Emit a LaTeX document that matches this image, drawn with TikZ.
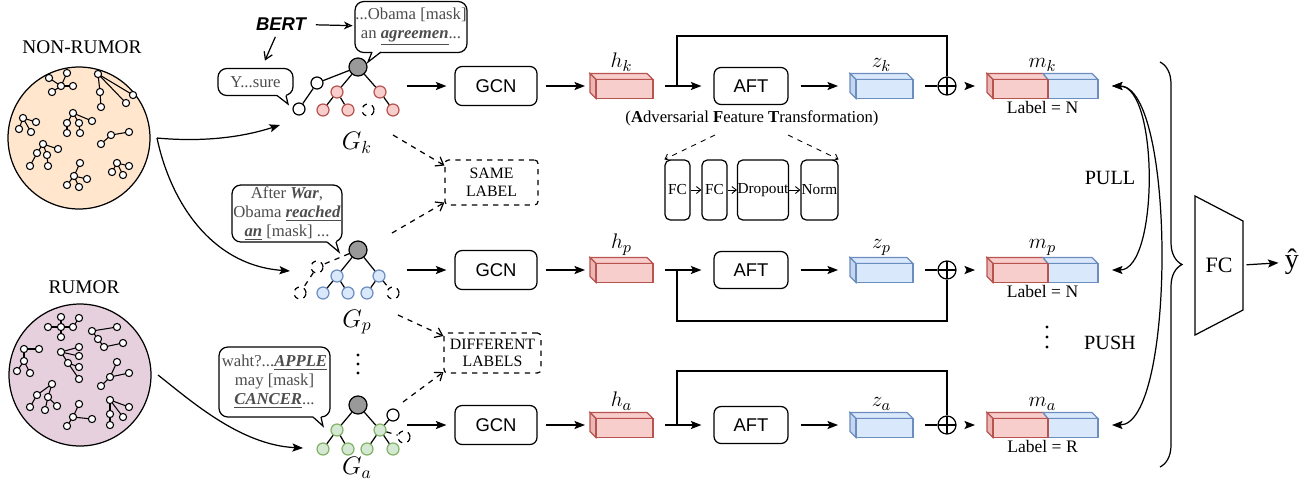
\documentclass[tikz,border=0pt]{standalone}
\usepackage{fontspec}
\setmainfont{Liberation Serif}
\setsansfont{Liberation Sans}
\usetikzlibrary{positioning,arrows.meta,decorations.pathreplacing}

\definecolor{redfill}{HTML}{F8CECC}
\definecolor{redline}{HTML}{B85450}
\definecolor{bluefill}{HTML}{DAE8FC}
\definecolor{blueline}{HTML}{6C8EBF}
\definecolor{greenfill}{HTML}{D5E8D4}
\definecolor{greenline}{HTML}{82B366}
\definecolor{peach}{HTML}{FFE6CC}
\definecolor{mauve}{HTML}{E6D0DE}
\definecolor{rootgray}{HTML}{999999}
\definecolor{bubbletext}{HTML}{4D4D4D}

% masked / replaced words in the posts
\newcommand{\keyw}[1]{\underline{\textbf{\textit{#1}}}}

% 3d feature block drawn on top of an empty node
\newcommand{\slab}[3]{%
  \filldraw[fill=#2, draw=#3] (#1.north west) -- ([shift={(-6,0)}]#1.north east) -- ([shift={(0,6)}]#1.north east) -- ([shift={(6,6)}]#1.north west) -- cycle;
  \filldraw[fill=#2!80!#3, draw=#3] (#1.north west) -- ([shift={(6,6)}]#1.north west) -- ([shift={(6,0)}]#1.south west) -- ([shift={(0,-6)}]#1.south west) -- cycle;
  \filldraw[fill=#2, draw=#3] ([shift={(6,6)}]#1.north west) rectangle (#1.south east);
}
% concatenated block, red half + blue half
\newcommand{\pairslab}[1]{%
  \filldraw[fill=redfill, draw=redline] (#1.north west) -- ([shift={(56,0)}]#1.north west) -- ([shift={(61,6)}]#1.north west) -- ([shift={(6,6)}]#1.north west) -- cycle;
  \filldraw[fill=bluefill, draw=blueline] ([shift={(56,0)}]#1.north west) -- ([shift={(-6,0)}]#1.north east) -- ([shift={(0,6)}]#1.north east) -- ([shift={(61,6)}]#1.north west) -- cycle;
  \filldraw[fill=redfill!80!redline, draw=redline] (#1.north west) -- ([shift={(6,6)}]#1.north west) -- ([shift={(6,0)}]#1.south west) -- ([shift={(0,-6)}]#1.south west) -- cycle;
  \filldraw[fill=bluefill, draw=blueline] ([shift={(61,6)}]#1.north west) rectangle (#1.south east);
  \filldraw[fill=redfill, draw=redline] ([shift={(6,6)}]#1.north west) rectangle ([shift={(61,0)}]#1.south west);
}
% tail of a speech bubble: x1, x2, bottom y, tip x, tip y
\newcommand{\bubbletail}[5]{%
  \fill[white] (#1,#3-3) -- (#1,#3) -- (#4,#5) -- (#2,#3) -- (#2,#3-3) -- cycle;
  \draw (#1,#3) -- (#4,#5) -- (#2,#3);
}

\tikzset{
  pool/.style={circle, draw, minimum size=2.84cm, outer sep=4pt},
  leaf/.style={circle, draw, minimum size=0.24cm, inner sep=0pt},
  rootnode/.style={circle, draw, fill=rootgray, minimum size=0.36cm, inner sep=0pt},
  rednode/.style={leaf, fill=redfill, draw=redline},
  bluenode/.style={leaf, fill=bluefill, draw=blueline},
  greennode/.style={leaf, fill=greenfill, draw=greenline},
  whitenode/.style={leaf, fill=white},
  ghostnode/.style={leaf, dashed},
  bubble/.style={draw, fill=white, rounded corners=5pt, align=center, inner sep=0pt, text=bubbletext, font=\fontsize{9.5}{10.8}\selectfont},
  tagbox/.style={draw, dashed, rounded corners=2pt, align=center, font=\fontsize{9}{10}\selectfont},
  hint/.style={dashed, -{Straight Barb[length=4pt,width=6pt]}},
  block/.style={draw, rounded corners=4pt, minimum width=1.64cm, minimum height=0.78cm, font=\sffamily\fontsize{10.5}{12}\selectfont},
  slabnode/.style={inner sep=0pt, outer sep=0pt, minimum width=1.26cm, minimum height=0.5cm},
  vecl/.style={font=\fontsize{12.5}{14}\selectfont, inner sep=1pt},
  tagl/.style={font=\fontsize{10}{12}\selectfont, inner sep=1.5pt},
  oplus/.style={circle, draw, inner sep=0pt, minimum size=0.36cm,
    path picture={\draw (path picture bounding box.north) -- (path picture bounding box.south)
      (path picture bounding box.west) -- (path picture bounding box.east);}},
  conn/.style={->, shorten <=0.24cm, shorten >=0.24cm},
  layer/.style={draw, rounded corners=3pt, minimum height=1.2cm, inner sep=0pt, font=\fontsize{8.7}{10}\selectfont},
  tiny/.style={-{Straight Barb[length=2.5pt,width=4pt]}, line width=0.5pt},
  glabel/.style={font=\fontsize{14}{16}\selectfont},
}

\begin{document}
\begin{tikzpicture}[x=0.02cm, y=-0.02cm, line width=0.7pt, >={Stealth[length=6pt,width=4.6pt,inset=1.2pt]}]
\useasboundingbox (0,0) rectangle (1307,495);

% the two pools of propagation trees
\node[font=\fontsize{11}{13}\selectfont] (nrtitle) at (82,47) {NON-RUMOR};
\node[pool, fill=peach] (nonrumor) at (79,138) {};
\foreach \xa/\ya/\xb/\yb in {61/86/49/78, 61/86/67/73, 61/86/73/86, 61/86/52/92,
    98/74/100/92, 100/92/101/107, 98/74/133/95, 98/74/126/103,
    23/118/36/122, 23/118/19/129, 23/118/31/132,
    73/113/67/123, 73/113/79/123, 73/113/92/121, 67/123/67/133, 79/123/80/133,
    101/144/111/135, 111/135/129/132,
    43/144/37/153, 43/144/47/155, 43/144/58/149, 37/153/30/166, 47/155/48/166,
    80/163/74/176, 74/176/67/185, 74/176/79/187, 74/176/87/179,
    117/163/112/172, 117/163/123/175, 117/163/129/166}
  \draw[line width=0.6pt] (\xa,\ya) -- (\xb,\yb);
\foreach \xa/\ya in {49/78, 67/73, 61/86, 73/86, 52/92, 98/74, 100/92, 101/107, 133/95, 126/103,
    23/118, 36/122, 19/129, 31/132, 73/113, 67/123, 79/123, 92/121, 67/133, 80/133,
    101/144, 111/135, 129/132, 43/144, 37/153, 47/155, 58/149, 30/166, 48/166,
    80/163, 74/176, 67/185, 79/187, 87/179, 117/163, 112/172, 123/175, 129/166}
  \filldraw[line width=0.6pt, fill=white] (\xa,\ya) circle (3.6);

\node[font=\fontsize{11}{13}\selectfont] (rtitle) at (84,287) {RUMOR};
\node[pool, fill=mauve] (rumor) at (80,375) {};
\foreach \xa/\ya/\xb/\yb in {61/327/61/317, 61/327/61/337, 61/327/48/327, 61/327/73/327, 73/327/79/318,
    92/331/117/327, 92/331/98/339, 98/339/104/347, 104/347/123/343,
    24/349/39/349, 24/349/24/361, 24/361/17/371, 24/361/30/373,
    61/352/79/347, 61/352/79/356, 61/352/68/363, 68/363/79/367, 68/363/79/379,
    110/377/117/362, 110/377/101/386, 110/377/129/373,
    52/384/37/395, 37/395/30/407, 52/384/48/397, 48/397/45/410, 48/397/57/406,
    79/404/73/417, 73/417/67/426, 73/417/92/419,
    110/400/110/414, 110/414/110/425, 110/400/129/407, 110/400/123/417}
  \draw[line width=0.6pt] (\xa,\ya) -- (\xb,\yb);
\foreach \xa/\ya in {61/327, 61/317, 61/337, 48/327, 73/327, 79/318, 92/331, 117/327, 98/339, 104/347, 123/343,
    24/349, 39/349, 24/361, 17/371, 30/373, 61/352, 79/347, 79/356, 68/363, 79/367, 79/379,
    110/377, 117/362, 101/386, 129/373, 52/384, 37/395, 30/407, 48/397, 45/410, 57/406,
    79/404, 73/417, 67/426, 92/419, 110/400, 110/414, 110/425, 129/407, 123/417}
  \filldraw[line width=0.6pt, fill=white] (\xa,\ya) circle (3.6);

% sampled trees
\coordinate (ink) at (280,125);
\coordinate (inp) at (290,271);
\coordinate (ina) at (303,448);
\draw[->] (nonrumor.east) .. controls (200,142) and (240,138) .. (ink);
\draw[->] (nonrumor.east) .. controls (170,200) and (210,265) .. (inp);
\draw[->] (rumor.east) .. controls (190,400) and (240,445) .. (ina);

% G_k
\node[rootnode] (rk) at (358,67) {};
\node[whitenode] (wk1) at (317,83) {};
\node[whitenode] (wk2) at (299,109) {};
\node[rednode] (ck1) at (337,92) {};
\node[rednode] (ck2) at (380,92) {};
\node[rednode] (lk1) at (323,110) {};
\node[rednode] (lk2) at (348,110) {};
\node[ghostnode] (dk) at (368,110) {};
\node[rednode] (lk3) at (393,110) {};
\draw (rk) -- (wk1) -- (wk2) (rk) -- (ck1) -- (lk1) (ck1) -- (lk2) (rk) -- (ck2) -- (lk3);
\node[glabel] (gk) at (357,143) {$G_k$};

% G_p
\node[rootnode] (rp) at (358,250) {};
\node[ghostnode] (dp1) at (317,267) {};
\node[ghostnode] (dp2) at (300,293) {};
\node[bluenode] (cp1) at (337,276) {};
\node[bluenode] (cp2) at (379,276) {};
\node[bluenode] (lp1) at (323,293) {};
\node[bluenode] (lp2) at (348,293) {};
\node[bluenode] (lp3) at (367,293) {};
\node[ghostnode] (dp3) at (393,293) {};
\draw (rp) -- (cp1) -- (lp1) (cp1) -- (lp2) (rp) -- (cp2) -- (lp3);
\draw[dashed] (rp) -- (dp1) -- (dp2) (cp2) -- (dp3);
\node[glabel] (gp) at (357,322) {$G_p$};

\foreach \yy in {355,364,373}
  \fill (358,\yy) circle (1.6);

% G_a
\node[rootnode] (ra) at (358,405) {};
\node[greennode] (ca1) at (337,430) {};
\node[greennode] (ca2) at (380,430) {};
\node[whitenode] (wa) at (393,415) {};
\node[ghostnode] (da) at (404,437) {};
\node[greennode] (la1) at (323,449) {};
\node[greennode] (la2) at (348,449) {};
\node[greennode] (la3) at (367,449) {};
\node[greennode] (la4) at (393,449) {};
\draw (ra) -- (ca1) -- (la1) (ca1) -- (la2) (ra) -- (ca2) -- (la3) (ca2) -- (la4) (ca2) -- (wa);
\draw[dashed] (ca2) -- (da);
\node[glabel] (ga) at (357,468) {$G_a$};

% posts
\node[font=\sffamily\bfseries\itshape\fontsize{10.5}{12}\selectfont] (bert) at (281,24) {BERT};
\node[bubble, minimum width=2.24cm, minimum height=1.02cm] (bubk) at (411,27) {...Obama [mask]\\ an \keyw{agreemen}...};
\bubbletail{372}{381}{52}{368}{62}
\node[bubble, minimum width=1.5cm, minimum height=0.54cm] (ysure) at (255.5,82) {Y...sure};
\bubbletail{277}{286}{95.5}{288}{104}
\draw[-{Stealth[open,length=5pt,width=4.5pt]}, shorten <=2pt, shorten >=1pt] (bert) -- (bubk);
\draw[-{Straight Barb[length=4pt,width=5pt]}, shorten >=0.16cm] (bert) -- (ysure);

\node[bubble, minimum width=2.2cm, minimum height=1.14cm] (bubp) at (287,213.5) {After \textbf{\textit{War}},\\ Obama \keyw{reached}\\ \keyw{an} [mask] ...};
\bubbletail{327}{336}{242}{339}{252}
\node[bubble, minimum width=2.22cm, minimum height=1.4cm] (buba) at (274.5,382) {waht?...\keyw{APPLE}\\ may [mask]\\ \keyw{CANCER}...};
\bubbletail{313}{321}{417}{323}{426}

% label relations
\node[tagbox, minimum width=1.86cm, minimum height=0.9cm] (same) at (491.5,182.5) {SAME\\LABEL};
\node[tagbox, minimum width=1.9cm, minimum height=0.8cm] (diff) at (492.5,353) {DIFFERENT\\LABELS};
\coordinate (gks) at (393,135);
\coordinate (gps) at (392,233);
\coordinate (gpd) at (398,315);
\coordinate (gad) at (403,402);
\draw[hint] (gks) -- ([shift={(0,-17)}]same.west);
\draw[hint] (gps) -- ([shift={(0,20)}]same.west);
\draw[hint] (gpd) -- ([shift={(0,-17)}]diff.west);
\draw[hint] (gad) -- ([shift={(0,19)}]diff.west);

% encoder rows
\foreach \row/\y/\lab in {k/86/N, p/270/N, a/425/R} {
  \coordinate (t\row) at (407,\y);
  \coordinate (s\row) at (677,\y);
  \node[block] (gcn\row) at (496,\y) {GCN};
  \node[slabnode, label={[vecl]above:$h_\row$}] (h\row) at (621.5,\y) {};
  \node[block, minimum width=1.48cm, minimum height=0.74cm] (aft\row) at (751,\y) {AFT};
  \node[slabnode, label={[vecl]above:$z_\row$}] (z\row) at (881.5,\y) {};
  \node[oplus] (plus\row) at (947,\y) {};
  \node[slabnode, minimum width=2.22cm, label={[vecl]above:$m_\row$}, label={[tagl]below:Label = \lab}] (m\row) at (1042.5,\y) {};
  \slab{h\row}{redfill}{redline}
  \slab{z\row}{bluefill}{blueline}
  \pairslab{m\row}
  \draw[->, shorten >=0.16cm] (t\row) -- (gcn\row);
  \draw[->, shorten <=0.16cm, shorten >=0.1cm] (gcn\row) -- (h\row);
  \draw[conn] (h\row) -- (aft\row);
  \draw[conn] (aft\row) -- (z\row);
  \draw[shorten <=0.24cm] (z\row) -- (plus\row);
  \draw[conn] (plus\row) -- (m\row);
}
% residual paths
\draw (sk) -- (677,36) -| (plusk);
\draw (sp) -- (677,321) -| (plusp);
\draw (sa) -- (677,371) -| (plusa);

% inside AFT
\node[font=\fontsize{9.5}{11}\selectfont] (advk) at (752,118) {(\textbf{A}dversarial \textbf{F}eature \textbf{T}ransformation)};
\coordinate (aftl) at (715,135);
\coordinate (aftr) at (788,135);
\node[layer, minimum width=0.5cm] (fca) at (677.5,190) {FC};
\node[layer, minimum width=0.5cm] (fcb) at (714.5,190) {FC};
\node[layer, minimum width=1cm] (drop) at (763,190) {Dropout};
\node[layer, minimum width=0.74cm] (norm) at (819.5,190) {Norm};
\draw[tiny] (fca) -- (fcb);
\draw[tiny] (fcb) -- (drop);
\draw[tiny] (drop) -- (norm);
\draw[tiny, dashed] (aftl) -- (fca.north west);
\draw[tiny, dashed] (aftr) -- (norm.north east);

% contrastive pairs
\foreach \yy in {327,337,347}
  \fill (1047,\yy) circle (1.6);
\coordinate (mkr) at ([shift={(14,0)}]mk.east);
\coordinate (mpr) at ([shift={(14,0)}]mp.east);
\coordinate (mar) at ([shift={(14,0)}]ma.east);
\draw[<->] (mkr) .. controls +(47,0) and +(47,0) .. (mpr);
\draw[<->] (mkr) .. controls +(64,0) and +(64,0) .. (mar);
\node[font=\fontsize{11.5}{13}\selectfont] (pull) at (1110,178) {PULL};
\node[font=\fontsize{11.5}{13}\selectfont] (push) at (1110,343) {PUSH};

% classifier
\draw[decorate, decoration={brace, amplitude=0.44cm}] (1160,62) -- (1160,467);
\draw (1195,196) -- (1243,221) -- (1243,310) -- (1195,335) -- cycle;
\node[font=\fontsize{12.5}{14}\selectfont] (fc) at (1219,265) {FC};
\coordinate (fcout) at (1243,265);
\node[font=\fontsize{16}{18}\selectfont] (yhat) at (1292,262) {ŷ};
\draw[->, shorten <=2pt] (fcout) -- (yhat);
\end{tikzpicture}
\end{document}
